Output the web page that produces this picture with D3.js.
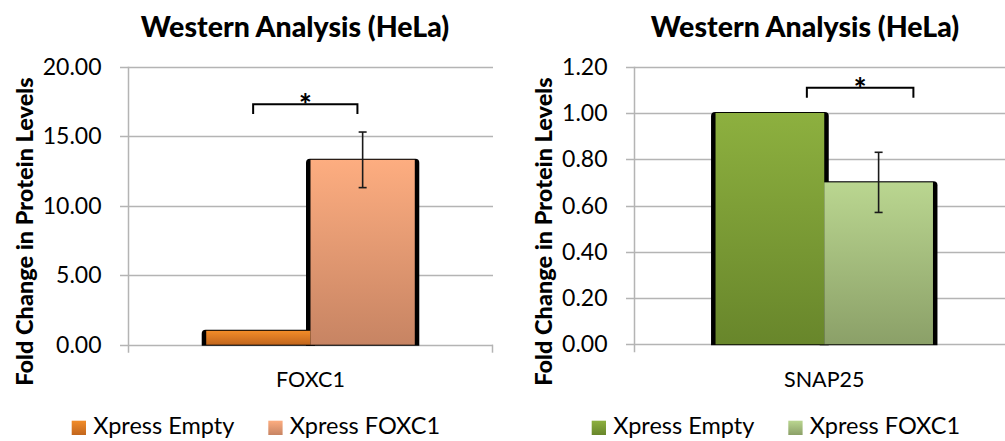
<!DOCTYPE html>
<html>
<head>
<meta charset="utf-8">
<script src="https://cdn.jsdelivr.net/npm/d3@7"></script>
<style>
  html, body { margin: 0; padding: 0; background: #fff; }
  svg { display: block; font-family: Lato, "Open Sans", sans-serif; }
</style>
</head>
<body>
<svg id="chart" width="1005" height="441"></svg>
<script>
// ---- data ----
const chartTitle = "Western Analysis (HeLa)";
const yAxisLabel = "Fold Change in Protein Levels";
const seriesNames = ["Xpress Empty", "Xpress FOXC1"];

const foxc1Category = ["FOXC1"];
const foxc1Means = [1.0, 13.3];
const foxc1Errors = [0, 2.0];
const foxc1Ticks = [0, 5, 10, 15, 20];
const foxc1Bracket = [17.3, 16.6];   // bracket bar level, leg end level
const foxc1Star = "*";

const snap25Category = ["SNAP25"];
const snap25Means = [1.0, 0.70];
const snap25Errors = [0, 0.13];
const snap25Ticks = [0, 0.2, 0.4, 0.6, 0.8, 1.0, 1.2];
const snap25Bracket = [1.109, 1.066];
const snap25Star = "*";

const orangeFills = [["#F28C28", "#C2661D"], ["#FDAD80", "#C78463"]];
const greenFills = [["#8DB03F", "#68862B"], ["#BAD690", "#8BA068"]];

const svg = d3.select("#chart");
const defs = svg.append("defs");

function gradient(id, stops) {
  const g = defs.append("linearGradient").attr("id", id)
    .attr("x1", 0).attr("y1", 0).attr("x2", 0).attr("y2", 1);
  g.append("stop").attr("offset", "0%").attr("stop-color", stops[0]);
  g.append("stop").attr("offset", "100%").attr("stop-color", stops[1]);
}

// Black edge behind each bar: rounded top corners, square bottom
function shadowPath(x, y, w, h, r) {
  return `M${x},${y + h} L${x},${y + r} Q${x},${y} ${x + r},${y} L${x + w - r},${y} Q${x + w},${y} ${x + w},${y + r} L${x + w},${y + h} Z`;
}

function drawPanel(p) {
  const g = svg.append("g");
  const y = d3.scaleLinear().domain(p.domain).range([p.bottom, p.top]);
  const cat = d3.scaleBand().domain(p.category).range([p.left, p.right]);
  const ser = d3.scaleBand().domain(seriesNames)
    .range([0, cat.bandwidth()]).paddingInner(0).paddingOuter(0.75);
  const bw = ser.bandwidth();

  p.fills.forEach((f, i) => gradient(p.id + "g" + i, f));

  // title
  g.append("text").attr("x", p.titleX).attr("y", 37)
    .attr("text-anchor", "middle").attr("font-weight", 900)
    .attr("font-size", 28.5).attr("fill", "#000").text(chartTitle);

  // y axis title
  g.append("text")
    .attr("transform", `translate(${p.labelX},${231.5}) rotate(-90)`)
    .attr("text-anchor", "middle").attr("font-weight", 900)
    .attr("font-size", 23.5).attr("fill", "#000").text(yAxisLabel);

  // gridlines + tick marks
  g.append("g").selectAll("line").data(p.ticks).join("line")
    .attr("x1", p.left - 8).attr("x2", p.right)
    .attr("y1", d => Math.round(y(d)) + 0.5).attr("y2", d => Math.round(y(d)) + 0.5)
    .attr("stroke", "#b4b4b4").attr("stroke-width", 1.5);

  // tick labels
  g.append("g").selectAll("text").data(p.ticks).join("text")
    .attr("x", p.left - 26.5).attr("y", d => y(d) + 8)
    .attr("text-anchor", "end").attr("font-size", 23).attr("fill", "#000")
    .text(d => d3.format(".2f")(d));

  // axis line + category separators
  g.append("line").attr("x1", p.left + 0.5).attr("x2", p.left + 0.5)
    .attr("y1", y(p.domain[1])).attr("y2", p.bottom + 8)
    .attr("stroke", "#b4b4b4").attr("stroke-width", 1.5);
  g.append("line").attr("x1", p.right - 0.5).attr("x2", p.right - 0.5)
    .attr("y1", p.bottom).attr("y2", p.bottom + 8)
    .attr("stroke", "#b4b4b4").attr("stroke-width", 1.5);

  const c0 = cat(p.category[0]);
  const bars = seriesNames.map((s, i) => ({
    x: c0 + ser(s), v: p.means[i], e: p.errors[i], i
  }));

  // shadows first so each bar fill covers the neighbour's edge
  g.append("g").selectAll("path").data(bars).join("path")
    .attr("d", d => shadowPath(d.x - 4.5, y(d.v) - 1, bw + 9, p.bottom + 1 - (y(d.v) - 1), 4))
    .attr("fill", "#000");
  g.append("g").selectAll("rect").data(bars).join("rect")
    .attr("x", d => d.x).attr("y", d => y(d.v))
    .attr("width", bw).attr("height", d => p.bottom - y(d.v))
    .attr("fill", d => `url(#${p.id}g${d.i})`);

  // error bars
  const eb = g.append("g").attr("stroke", "#1a1a1a").attr("stroke-width", 1.6);
  bars.filter(d => d.e > 0).forEach(d => {
    const cx = d.x + bw / 2;
    eb.append("line").attr("x1", cx).attr("x2", cx)
      .attr("y1", y(d.v + d.e)).attr("y2", y(d.v - d.e));
    [d.v + d.e, d.v - d.e].forEach(v => eb.append("line")
      .attr("x1", cx - 4).attr("x2", cx + 4).attr("y1", y(v)).attr("y2", y(v)));
  });

  // significance bracket
  const bx1 = bars[0].x + bw * p.bracketFrac[0];
  const bx2 = bars[1].x + bw * p.bracketFrac[1];
  const by = y(p.bracket[0]), bl = y(p.bracket[1]);
  g.append("path")
    .attr("d", `M${bx1},${bl} L${bx1},${by} L${bx2},${by} L${bx2},${bl}`)
    .attr("fill", "none").attr("stroke", "#000").attr("stroke-width", 2);
  g.append("text").attr("x", (bx1 + bx2) / 2).attr("y", by + 12)
    .attr("text-anchor", "middle").attr("font-weight", 900)
    .attr("font-size", 30).text(p.star);

  // category label
  g.append("text").attr("x", c0 + cat.bandwidth() / 2).attr("y", 387)
    .attr("text-anchor", "middle").attr("font-size", 21.5).attr("fill", "#000")
    .text(p.category[0]);

  // legend
  const lg = g.append("g");
  seriesNames.forEach((s, i) => {
    lg.append("rect").attr("x", p.legendX[i]).attr("y", 420.7)
      .attr("width", 14.3).attr("height", 14.3)
      .attr("fill", `url(#${p.id}g${i})`);
    lg.append("text").attr("x", p.legendX[i] + 21.5).attr("y", 433.8)
      .attr("font-size", 23.5).attr("fill", "#000").text(s);
  });
}

drawPanel({
  id: "foxc1", category: foxc1Category, means: foxc1Means, errors: foxc1Errors,
  ticks: foxc1Ticks, domain: [0, 20], bracket: foxc1Bracket, bracketFrac: [0.45, 0.45],
  star: foxc1Star, fills: orangeFills,
  left: 128, right: 493, top: 66.7, bottom: 344.7,
  titleX: 295, labelX: 32.5, legendX: [71.7, 268.3]
});

drawPanel({
  id: "snap25", category: snap25Category, means: snap25Means, errors: snap25Errors,
  ticks: snap25Ticks, domain: [0, 1.2], bracket: snap25Bracket, bracketFrac: [0.84, 0.82],
  star: snap25Star, fills: greenFills,
  left: 634, right: 1014.5, top: 66.7, bottom: 344.3,
  titleX: 805, labelX: 552, legendX: [591.7, 788.3]
});
</script>
</body>
</html>
